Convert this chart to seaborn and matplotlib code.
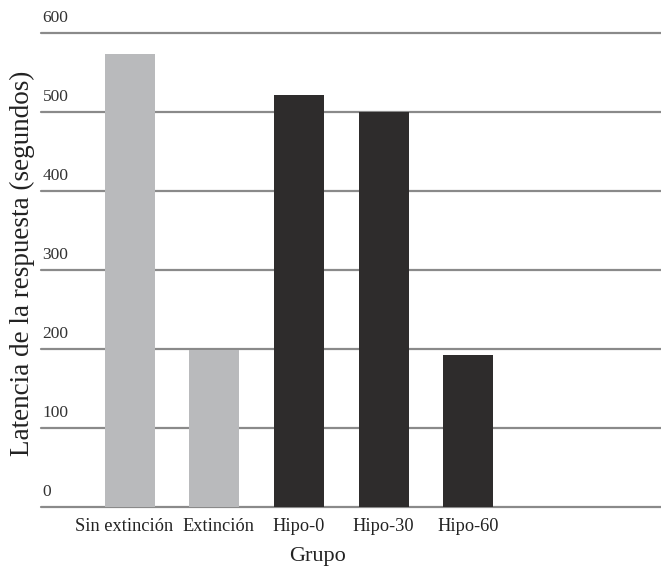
import matplotlib
matplotlib.use("Agg")
import matplotlib.pyplot as plt
import matplotlib.transforms as mtransforms
import seaborn as sns
import pandas as pd

# ---------------- DATA ----------------
grupos = ["Sin extinción", "Extinción", "Hipo-0", "Hipo-30", "Hipo-60"]
latencia = [573, 199, 521, 500, 192]
colores = ["#b9babc", "#b9babc", "#2e2c2c", "#2e2c2c", "#2e2c2c"]
yticks = [0, 100, 200, 300, 400, 500, 600]

df = pd.DataFrame({"Grupo": grupos, "Latencia": latencia})

sns.set_theme(style="white")
plt.rcParams["font.family"] = ["Liberation Serif", "DejaVu Serif"]

fig = plt.figure(figsize=(6.61, 5.75), dpi=100)
ax = fig.add_axes([0.062, 0.118, 0.938, 0.8246])

# gridlines behind bars, labels sit on top of each line
for v in yticks:
    ax.axhline(v, color="#8a8a8a", lw=1.6, zorder=0, clip_on=False)
    ax.text(-1.03, v + 9, str(v), fontsize=12.5, color="#333333",
            ha="left", va="bottom", clip_on=False)

sns.barplot(data=df, x="Grupo", y="Latencia", hue="Grupo",
            palette=colores, width=0.59, saturation=1, legend=False,
            linewidth=0, ax=ax, zorder=2)

ax.set_xlim(-1.05, 6.28)
ax.set_ylim(0, 600)
ax.set_yticks([])
ax.tick_params(axis="x", length=0, pad=8, labelsize=13.2, colors="#222222")
for s in ax.spines.values():
    s.set_visible(False)

# first two labels sit a little apart in the original
shifts = [-6, 4, 0, 0, 0]
for lab, dx in zip(ax.get_xticklabels(), shifts):
    lab.set_transform(lab.get_transform() +
                      mtransforms.ScaledTranslation(dx / 100, 0, fig.dpi_scale_trans))

ax.set_xlabel("")
ax.set_ylabel("")
fig.text(318 / 661, 1 - 556 / 575, "Grupo", fontsize=16, color="#222222",
         ha="center", va="center")
fig.text(22 / 661, 1 - 263 / 575, "Latencia de la respuesta (segundos)",
         rotation=90, fontsize=19.5, color="#222222", ha="center", va="center")

fig.savefig("out.png", dpi=100)
plt.close()
